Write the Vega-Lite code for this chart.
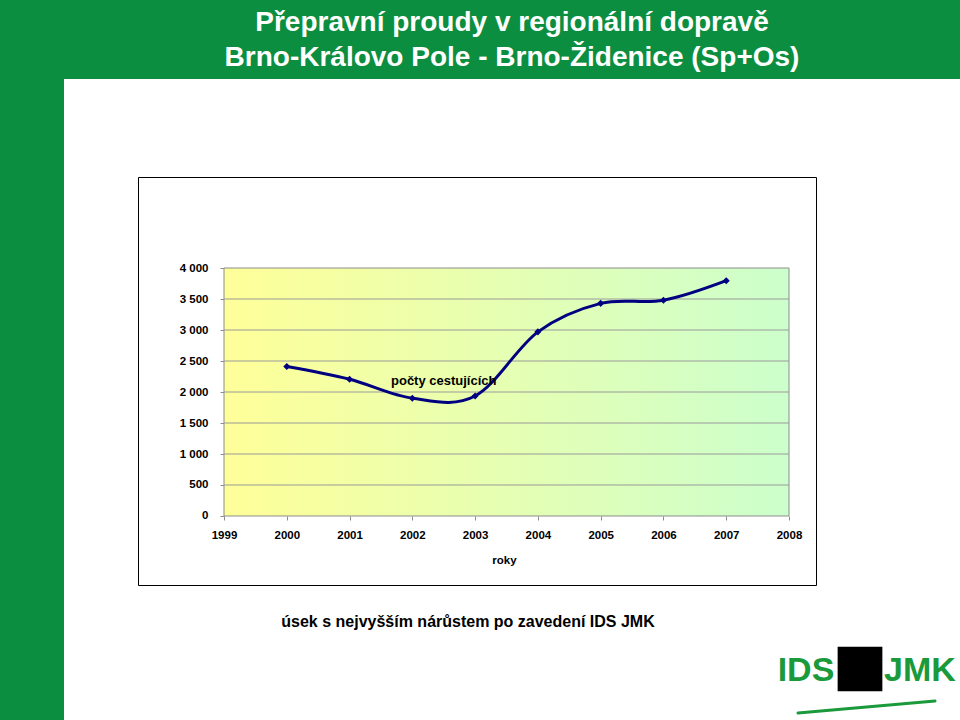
{
  "$schema": "https://vega.github.io/schema/vega-lite/v6.json",
  "background": "white",
  "padding": 0,
  "spacing": 0,
  "bounds": "flush",
  "config": {
    "font": "Liberation Sans",
    "concat": {"spacing": 0},
    "view": {"stroke": null}
  },
  "vconcat": [
    {
      "width": 960,
      "height": 79,
      "view": {"fill": "#0b8e40", "stroke": null},
      "title": {
        "text": ["Přepravní proudy v regionální dopravě", "Brno-Královo Pole - Brno-Židenice (Sp+Os)"],
        "orient": "bottom",
        "offset": -70,
        "dx": 32,
        "lineHeight": 35,
        "fontSize": 28,
        "fontWeight": "bold",
        "color": "white",
        "font": "Liberation Sans"
      },
      "data": {"values": [{}]},
      "mark": {"type": "point", "opacity": 0}
    },
    {
      "hconcat": [
        {
          "width": 64,
          "height": 641,
          "view": {"fill": "#0b8e40", "stroke": null},
          "data": {"values": [{}]},
          "mark": {"type": "point", "opacity": 0}
        },
        {
          "vconcat": [
            {
              "width": 10,
              "height": 98,
              "data": {"values": [{}]},
              "mark": {"type": "point", "opacity": 0}
            },
            {
              "width": 678,
              "height": 408,
              "view": {"stroke": "#000000", "strokeWidth": 1, "fill": "white"},
              "title": {
                "text": "úsek s nejvyšším nárůstem po zavedení IDS JMK",
                "orient": "bottom",
                "offset": 29,
                "dx": -9,
                "fontSize": 16,
                "fontWeight": "bold",
                "color": "#000000",
                "font": "Liberation Sans"
              },
              "layer": [
                {
                  "data": {"values": [{}]},
                  "mark": {
                    "type": "rect",
                    "stroke": "#8c8c8c",
                    "strokeWidth": 1,
                    "fill": {
                      "gradient": "linear",
                      "x1": 0, "y1": 0, "x2": 1, "y2": 0,
                      "stops": [
                        {"offset": 0, "color": "#ffff99"},
                        {"offset": 1, "color": "#ccffcc"}
                      ]
                    }
                  },
                  "encoding": {
                    "x": {"datum": 1999, "type": "quantitative"},
                    "x2": {"datum": 2008},
                    "y": {"datum": 0, "type": "quantitative"},
                    "y2": {"datum": 4000}
                  }
                },
                {
                  "data": {"values": [{"g": 500}, {"g": 1000}, {"g": 1500}, {"g": 2000}, {"g": 2500}, {"g": 3000}, {"g": 3500}]},
                  "mark": {"type": "rule", "color": "#9a9a9a", "strokeWidth": 1},
                  "encoding": {
                    "x": {"datum": 1999, "type": "quantitative"},
                    "x2": {"datum": 2008},
                    "y": {"field": "g", "type": "quantitative"}
                  }
                },
                {
                  "data": {
                    "values": [
                      {"rok": 2000, "pocet": 2410},
                      {"rok": 2001, "pocet": 2205},
                      {"rok": 2002, "pocet": 1900},
                      {"rok": 2003, "pocet": 1935},
                      {"rok": 2004, "pocet": 2970},
                      {"rok": 2005, "pocet": 3430},
                      {"rok": 2006, "pocet": 3480},
                      {"rok": 2007, "pocet": 3795}
                    ]
                  },
                  "mark": {
                    "type": "line",
                    "interpolate": "cardinal",
                    "color": "#000080",
                    "strokeWidth": 3,
                    "point": {"shape": "diamond", "filled": true, "size": 50, "color": "#000080"}
                  },
                  "encoding": {
                    "x": {
                      "field": "rok",
                      "type": "quantitative",
                      "scale": {"domain": [1997.63, 2008.43], "nice": false, "zero": false},
                      "axis": {
                        "values": [1999, 2000, 2001, 2002, 2003, 2004, 2005, 2006, 2007, 2008],
                        "format": "d",
                        "offset": -69,
                        "domain": false,
                        "grid": false,
                        "ticks": true,
                        "tickSize": 4,
                        "tickColor": "#8c8c8c",
                        "labelFont": "Liberation Sans",
                        "labelFontSize": 11.5,
                        "labelFontWeight": "bold",
                        "labelColor": "#000000",
                        "labelPadding": 9,
                        "title": "roky",
                        "titleFont": "Liberation Sans",
                        "titleFontSize": 11.5,
                        "titleFontWeight": "bold",
                        "titleColor": "#000000",
                        "titleX": 366,
                        "titleY": 44,
                        "titleBaseline": "middle"
                      }
                    },
                    "y": {
                      "field": "pocet",
                      "type": "quantitative",
                      "scale": {"domain": [-1113, 5468], "nice": false, "zero": false},
                      "axis": {
                        "values": [0, 500, 1000, 1500, 2000, 2500, 3000, 3500, 4000],
                        "labelExpr": "replace(format(datum.value, ','), ',', ' ')",
                        "offset": -86,
                        "domain": false,
                        "grid": false,
                        "ticks": true,
                        "tickSize": 4,
                        "tickColor": "#8c8c8c",
                        "labelFont": "Liberation Sans",
                        "labelFontSize": 11.5,
                        "labelFontWeight": "bold",
                        "labelColor": "#000000",
                        "labelPadding": 12,
                        "title": null
                      }
                    }
                  }
                },
                {
                  "data": {"values": [{}]},
                  "mark": {"type": "text", "text": "počty cestujících", "fontSize": 13, "fontWeight": "bold", "color": "#000000", "font": "Liberation Sans", "align": "center", "baseline": "middle"},
                  "encoding": {
                    "x": {"datum": 2002.5, "type": "quantitative"},
                    "y": {"datum": 2180, "type": "quantitative"}
                  }
                }
              ]
            },
            {
              "hconcat": [
                {
                  "width": 632,
                  "height": 135,
                  "data": {"values": [{}]},
                  "mark": {"type": "point", "opacity": 0}
                },
                {
                  "width": 190,
                  "height": 135,
                  "data": {"values": [{}]},
                  "layer": [
                    {
                      "mark": {"type": "rule", "color": "#1a9a3b", "strokeWidth": 3, "strokeCap": "round"},
                      "encoding": {
                        "x": {"datum": 28, "type": "quantitative", "scale": {"domain": [0, 190], "nice": false, "zero": false}, "axis": null},
                        "x2": {"datum": 165},
                        "y": {"datum": 128, "type": "quantitative", "scale": {"domain": [0, 135], "reverse": true, "nice": false, "zero": false}, "axis": null},
                        "y2": {"datum": 116}
                      }
                    },
                    {
                      "mark": {"type": "point", "shape": "square", "filled": true, "size": 2000, "color": "#000000", "opacity": 1},
                      "encoding": {
                        "x": {"datum": 90, "type": "quantitative"},
                        "y": {"datum": 84, "type": "quantitative"}
                      }
                    },
                    {
                      "mark": {"type": "text", "text": "IDS", "font": "Liberation Sans", "fontSize": 34, "fontWeight": "bold", "color": "#1a9a3b", "align": "center", "baseline": "middle"},
                      "encoding": {
                        "x": {"datum": 36, "type": "quantitative"},
                        "y": {"datum": 86, "type": "quantitative"}
                      }
                    },
                    {
                      "mark": {"type": "text", "text": "JMK", "font": "Liberation Sans", "fontSize": 34, "fontWeight": "bold", "color": "#1a9a3b", "align": "center", "baseline": "middle"},
                      "encoding": {
                        "x": {"datum": 150, "type": "quantitative"},
                        "y": {"datum": 86, "type": "quantitative"}
                      }
                    }
                  ]
                }
              ],
              "spacing": 0,
              "bounds": "flush"
            }
          ],
          "spacing": 0,
          "bounds": "flush"
        }
      ],
      "spacing": 74,
      "bounds": "flush"
    }
  ]
}
